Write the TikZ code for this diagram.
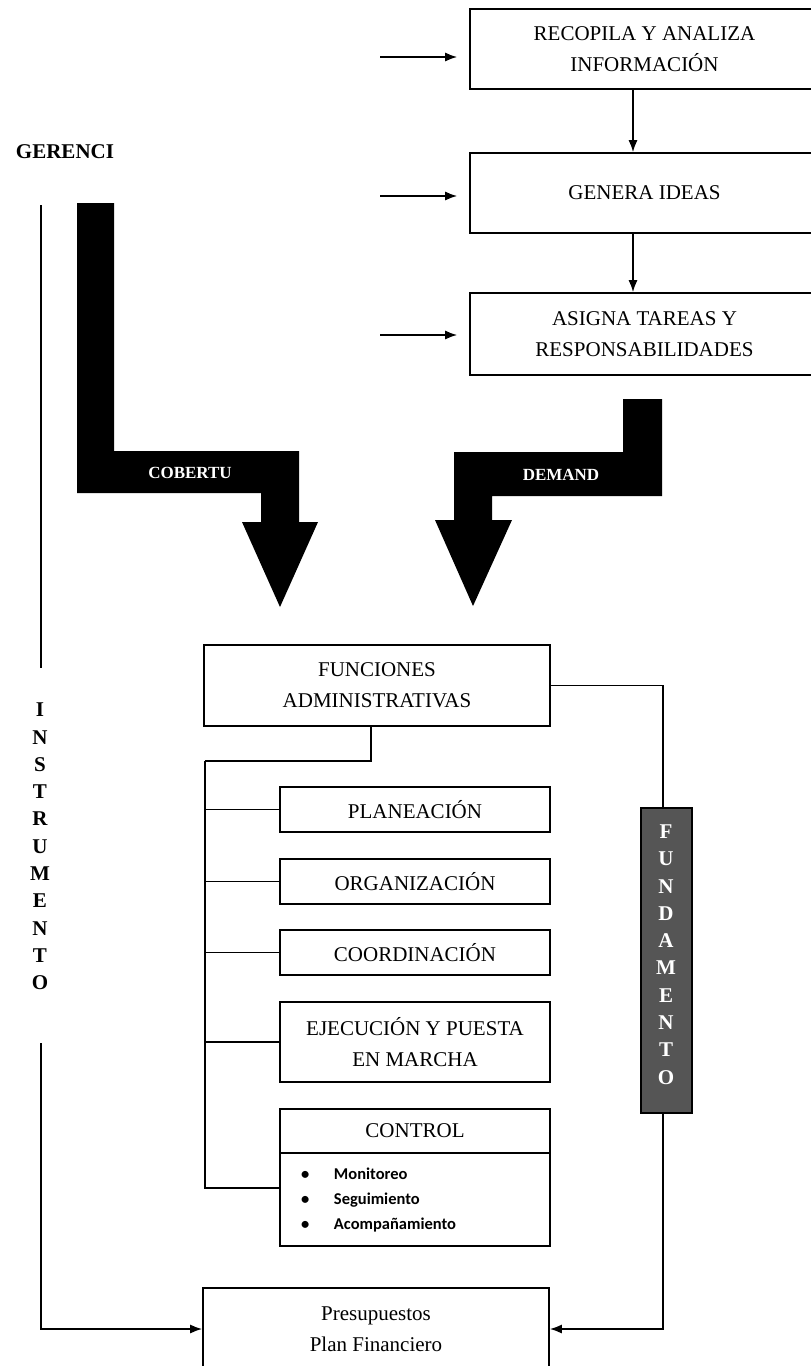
\documentclass[tikz,border=0pt]{standalone}
\usepackage{fontspec}
\setmainfont{Liberation Serif}
\newfontfamily\listafont{Carlito}
\usetikzlibrary{arrows.meta}
\usetikzlibrary{calc}
\definecolor{gris}{HTML}{555555}

\begin{document}
\begin{tikzpicture}[x=1pt,y=-1pt,
  caja/.style={draw, line width=1.6pt, align=center, inner sep=0pt,
    font=\fontsize{21}{31}\selectfont},
  linea/.style={line width=1.6pt},
  flecha/.style={linea, -{Latex[length=12pt,width=9pt]}},
  letras/.style={align=center, inner sep=0pt, font=\fontsize{21}{27.3}\selectfont\bfseries}]
\useasboundingbox (0,0) rectangle (811,1366);
% the three steps at the top
\node[caja, minimum width=349pt, minimum height=80pt] (v1) at (644.5,49) {RECOPILA Y ANALIZA\\INFORMACIÓN};
\node[caja, minimum width=349pt, minimum height=80pt] (v2) at (644.5,193) {GENERA IDEAS};
\node[caja, minimum width=349pt, minimum height=82pt] (v3) at (644.5,334) {ASIGNA TAREAS Y\\RESPONSABILIDADES};
\coordinate (ax) at (633,0);
\draw[flecha] (v1.south -| ax) -- (v2.north -| ax);
\draw[flecha] (v2.south -| ax) -- (v3.north -| ax);
%     arrows coming in from the left
\coordinate (e1) at (380,57);
\coordinate (e2) at (380,196);
\coordinate (e3) at (380,335);
\draw[flecha, shorten >=12pt] (e1) -- (e1 -| v1.west);
\draw[flecha, shorten >=12pt] (e2) -- (e2 -| v2.west);
\draw[flecha, shorten >=12pt] (e3) -- (e3 -| v3.west);
% the two big black arrows
\begin{scope}[black]
\fill (77,203) -- (114,203) -- (114,451) -- (299,451) -- (299,522) -- (318,522)
  -- (280,607) -- (242,522) -- (261,522) -- (261,493) -- (77,493) -- cycle;
\fill (623,399) -- (662,399) -- (662,496) -- (492,496) -- (492,520) -- (512,520)
  -- (473,606) -- (435,520) -- (454,520) -- (454,452) -- (623,452) -- cycle;
\end{scope}
\node[text=white, font=\fontsize{17}{20}\selectfont\bfseries] (cob) at (190,473) {COBERTU};
\node[text=white, font=\fontsize{17}{20}\selectfont\bfseries] (dem) at (561,475) {DEMAND};
\node[font=\fontsize{21}{31}\selectfont\bfseries] (ger) at (65,152) {GERENCI};
% left column
\node[letras] (instr) at (40,846.5) {I\\N\\S\\T\\R\\U\\M\\E\\N\\T\\O};
\coordinate (i1) at (41,205);
\coordinate (i2) at (41,668);
\coordinate (i3) at (41,1043);
\draw[linea] (i1) -- (i2);
% the functions
\node[caja, minimum width=346pt, minimum height=81pt] (func) at (377,685.5) {FUNCIONES\\ADMINISTRATIVAS};
\node[caja, minimum width=270pt, minimum height=45pt] (plan) at (415,809.5) {PLANEACIÓN};
\node[caja, minimum width=270pt, minimum height=45pt] (org) at (415,881.5) {ORGANIZACIÓN};
\node[caja, minimum width=270pt, minimum height=45pt] (coord) at (415,952.5) {COORDINACIÓN};
\node[caja, minimum width=270pt, minimum height=80pt] (ejec) at (415,1042) {EJECUCIÓN Y PUESTA\\EN MARCHA};
\node[caja, minimum width=270pt, minimum height=44pt] (ctrl) at (415,1131) {CONTROL};
\node[caja, minimum width=270pt, minimum height=93pt, text width=228pt, inner xsep=21pt, align=left,
  font=\listafont\bfseries\fontsize{16.5}{25}\selectfont] (ctrlb) at (415,1199.5)
  {\makebox[33pt][l]{•}Monitoreo\\\makebox[33pt][l]{•}Seguimiento\\\makebox[33pt][l]{•}Acompañamiento};
\node[caja, minimum width=346pt, minimum height=82pt] (presup) at (376,1329) {Presupuestos\\Plan Financiero};
%     tree of lines
\coordinate (t0) at (205,761);
\draw[linea] ([xshift=-6pt]func.south) |- (t0);
\draw[linea] (t0) |- ([yshift=11.5pt]ctrlb.west);
\foreach \b in {plan,org,coord,ejec}
  \draw[linea] (t0 |- \b.west) -- (\b.west);
% fundamento
\node[draw, line width=1.6pt, fill=gris, minimum width=51pt, minimum height=305pt] (fund) at (666.5,960.5) {};
\node[letras, text=white] (fundl) at (666,954.5) {F\\U\\N\\D\\A\\M\\E\\N\\T\\O};
\coordinate (fx) at (663,0);
\draw[linea] (func.east) -| (fx |- fund.north);
\draw[flecha] (fx |- fund.south) |- (presup.east);
\draw[flecha] (i3) |- (presup.west);
\end{tikzpicture}
\end{document}
